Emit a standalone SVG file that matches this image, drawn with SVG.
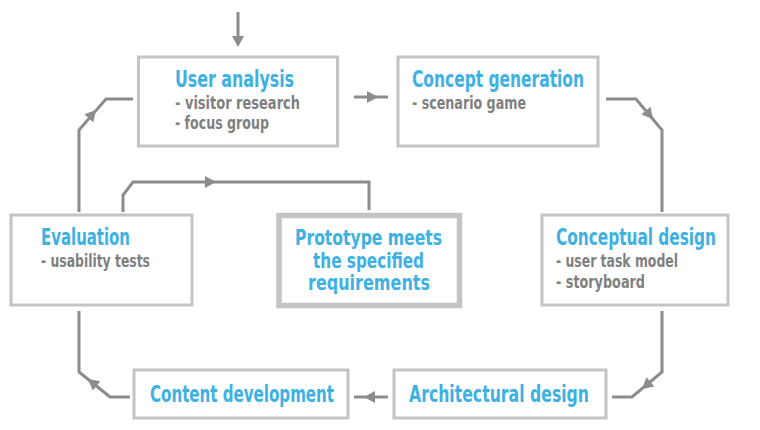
<svg xmlns="http://www.w3.org/2000/svg" xmlns:xlink="http://www.w3.org/1999/xlink" width="760" height="430" viewBox="0 0 760 430">
<defs>
<style>
.box{fill:#fff;stroke:#c4c4c4;stroke-width:3}
.boxb{fill:#fff;stroke:#c4c4c4;stroke-width:5.5}
.t{font-family:"DejaVu Sans Condensed","Liberation Sans Narrow","Liberation Sans",sans-serif;font-weight:bold;font-size:23px;fill:#3eb1e3}
.p{font-size:22px}
.s{font-family:"DejaVu Sans Condensed","Liberation Sans Narrow","Liberation Sans",sans-serif;font-weight:bold;font-size:17px;fill:#7f7f7f}
.c{fill:none;stroke:#8c8c8c;stroke-width:3}
.ah{fill:#8c8c8c}
</style>
<path id="ah" d="M0,0 L-11,-6 L-11,6 Z"/>
</defs>
<rect width="760" height="430" fill="#fff"/>
<g id="connectors">
<path class="c" d="M238,12 V38"/>
<path class="c" d="M354,97 H388"/>
<path class="c" d="M606,99 H636 L662,130 V212"/>
<path class="c" d="M662,311 V372 L632,397 H612"/>
<path class="c" d="M388,397 H354"/>
<path class="c" d="M130,397 H110 L79,372 V311"/>
<path class="c" d="M79,212 V130 L106,99 H133"/>
<path class="c" d="M123,212 V195 L133,182 H369 V210"/>
<use xlink:href="#ah" class="ah" transform="translate(238,47) rotate(90)"/>
<use xlink:href="#ah" class="ah" transform="translate(378,97)"/>
<use xlink:href="#ah" class="ah" transform="translate(653,119) rotate(50)"/>
<use xlink:href="#ah" class="ah" transform="translate(642,389) rotate(140)"/>
<use xlink:href="#ah" class="ah" transform="translate(364,397) rotate(180)"/>
<use xlink:href="#ah" class="ah" transform="translate(88,379) rotate(219)"/>
<use xlink:href="#ah" class="ah" transform="translate(96,110) rotate(-49)"/>
<use xlink:href="#ah" class="ah" transform="translate(216,182)"/>
</g>
<g id="user-analysis">
<rect class="box" x="138.5" y="57" width="199" height="89"/>
<text class="t" x="175" y="87" textLength="119" lengthAdjust="spacingAndGlyphs">User analysis</text>
<text class="s" x="175" y="109" textLength="125" lengthAdjust="spacingAndGlyphs">- visitor research</text>
<text class="s" x="175" y="129" textLength="94" lengthAdjust="spacingAndGlyphs">- focus group</text>
</g>
<g id="concept-generation">
<rect class="box" x="398" y="57" width="200" height="89"/>
<text class="t" x="412" y="87" textLength="172" lengthAdjust="spacingAndGlyphs">Concept generation</text>
<text class="s" x="412" y="109" textLength="114" lengthAdjust="spacingAndGlyphs">- scenario game</text>
</g>
<g id="conceptual-design">
<rect class="box" x="542" y="215" width="186" height="90"/>
<text class="t" x="556" y="245" textLength="160" lengthAdjust="spacingAndGlyphs">Conceptual design</text>
<text class="s" x="556" y="267" textLength="122" lengthAdjust="spacingAndGlyphs">- user task model</text>
<text class="s" x="556" y="288" textLength="89" lengthAdjust="spacingAndGlyphs">- storyboard</text>
</g>
<g id="architectural-design">
<rect class="box" x="394" y="370" width="212" height="48"/>
<text class="t" x="409" y="402" textLength="180" lengthAdjust="spacingAndGlyphs">Architectural design</text>
</g>
<g id="content-development">
<rect class="box" x="134" y="370" width="214" height="48"/>
<text class="t" x="150" y="402" textLength="184" lengthAdjust="spacingAndGlyphs">Content development</text>
</g>
<g id="evaluation">
<rect class="box" x="11" y="215" width="181" height="90"/>
<text class="t" x="41" y="245" textLength="89" lengthAdjust="spacingAndGlyphs">Evaluation</text>
<text class="s" x="41" y="267" textLength="109" lengthAdjust="spacingAndGlyphs">- usability tests</text>
</g>
<g id="prototype">
<rect class="boxb" x="279" y="215.5" width="180.5" height="90"/>
<text class="t p" x="295" y="245" textLength="147" lengthAdjust="spacingAndGlyphs">Prototype meets</text>
<text class="t p" x="313" y="268" textLength="111" lengthAdjust="spacingAndGlyphs">the specified</text>
<text class="t p" x="308" y="290" textLength="122" lengthAdjust="spacingAndGlyphs">requirements</text>
</g>
</svg>
